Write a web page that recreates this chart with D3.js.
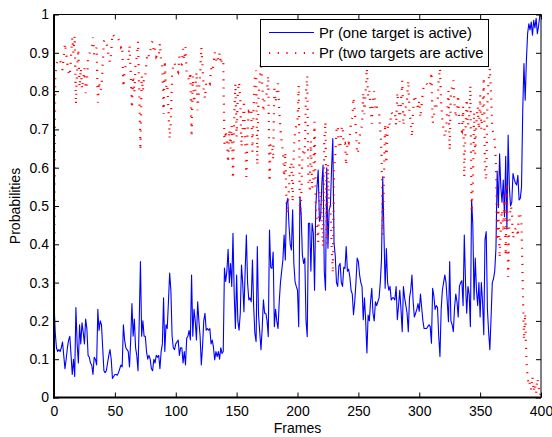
<!DOCTYPE html>
<html lang="en">
<head>
<meta charset="UTF-8">
<title>Probabilities</title>
<style>
  html, body { margin: 0; padding: 0; background: #fff; }
  svg { display: block; font-family: "Liberation Sans", Arial, Helvetica, sans-serif; }
</style>
</head>
<body>
<div id="chart"></div>
<script src="https://cdn.jsdelivr.net/npm/d3@7"></script>
<script>
// one value per frame, frames 0..400
const pOne = [
  0.25,0.17,0.13,0.12,0.125,0.12,0.13,0.145,0.11,0.075,
  0.1,0.13,0.15,0.16,0.11,0.06,0.1,0.055,0.235,0.14,
  0.09,0.19,0.14,0.195,0.17,0.14,0.205,0.18,0.11,0.105,
  0.09,0.085,0.06,0.105,0.1,0.085,0.23,0.175,0.2,0.19,
  0.13,0.07,0.065,0.07,0.09,0.11,0.125,0.1,0.05,0.055,
  0.06,0.06,0.058,0.065,0.075,0.085,0.08,0.19,0.15,0.13,
  0.125,0.12,0.08,0.15,0.245,0.16,0.205,0.13,0.11,0.07,
  0.2,0.355,0.16,0.2,0.16,0.16,0.12,0.1,0.11,0.1,
  0.075,0.07,0.1,0.09,0.11,0.105,0.11,0.075,0.12,0.14,
  0.26,0.12,0.19,0.18,0.25,0.325,0.28,0.16,0.13,0.125,
  0.14,0.145,0.15,0.11,0.13,0.13,0.09,0.12,0.085,0.155,
  0.16,0.175,0.15,0.32,0.16,0.23,0.2,0.15,0.25,0.2,
  0.16,0.085,0.133,0.2,0.22,0.176,0.18,0.176,0.18,0.14,
  0.15,0.13,0.098,0.12,0.107,0.12,0.1,0.13,0.115,0.12,
  0.338,0.303,0.33,0.387,0.3,0.35,0.29,0.429,0.272,0.18,
  0.32,0.2,0.176,0.22,0.346,0.298,0.224,0.33,0.424,0.3,
  0.255,0.26,0.25,0.359,0.237,0.167,0.146,0.394,0.216,0.17,
  0.125,0.18,0.255,0.22,0.22,0.2,0.159,0.437,0.34,0.337,
  0.38,0.185,0.23,0.2,0.18,0.25,0.3,0.33,0.359,0.424,
  0.359,0.507,0.52,0.45,0.4,0.385,0.49,0.35,0.302,0.29,
  0.28,0.185,0.524,0.48,0.372,0.35,0.364,0.2,0.159,0.455,
  0.455,0.33,0.455,0.43,0.28,0.5,0.55,0.594,0.46,0.47,
  0.56,0.607,0.329,0.28,0.6,0.39,0.49,0.5,0.6,0.676,
  0.403,0.37,0.3,0.29,0.344,0.35,0.3,0.29,0.34,0.337,
  0.394,0.33,0.335,0.315,0.28,0.27,0.216,0.25,0.3,0.364,
  0.355,0.32,0.3,0.29,0.203,0.26,0.2,0.116,0.215,0.2,
  0.25,0.285,0.22,0.2,0.25,0.24,0.25,0.26,0.3,0.36,
  0.576,0.429,0.285,0.389,0.3,0.28,0.29,0.255,0.26,0.26,
  0.255,0.29,0.203,0.24,0.28,0.23,0.172,0.29,0.26,0.24,
  0.22,0.172,0.26,0.28,0.32,0.25,0.21,0.22,0.23,0.245,
  0.225,0.27,0.235,0.2,0.18,0.18,0.18,0.185,0.19,0.185,
  0.142,0.285,0.265,0.23,0.24,0.235,0.16,0.107,0.23,0.28,
  0.3,0.32,0.3,0.25,0.198,0.355,0.2,0.19,0.172,0.235,
  0.27,0.25,0.21,0.29,0.3,0.305,0.24,0.424,0.3,0.22,
  0.29,0.27,0.185,0.516,0.45,0.255,0.364,0.28,0.24,0.3,
  0.21,0.3,0.25,0.164,0.412,0.433,0.23,0.17,0.125,0.21,
  0.3,0.31,0.33,0.39,0.591,0.496,0.636,0.55,0.51,0.568,
  0.472,0.63,0.44,0.685,0.55,0.5,0.51,0.585,0.57,0.56,
  0.555,0.58,0.516,0.52,0.55,0.75,0.872,0.776,0.88,0.95,
  0.976,0.96,0.98,0.946,0.985,0.965,0.99,0.95,0.97,0.998,
  0.995
];

const pTwo = [
  0.26,0.83,0.87,0.88,0.875,0.88,0.87,0.855,0.89,0.925,
  0.9,0.87,0.85,0.84,0.89,0.94,0.9,0.945,0.765,0.86,
  0.91,0.81,0.86,0.805,0.83,0.86,0.795,0.82,0.89,0.895,
  0.91,0.915,0.94,0.895,0.9,0.915,0.77,0.825,0.8,0.81,
  0.87,0.93,0.935,0.93,0.91,0.89,0.875,0.9,0.95,0.945,
  0.94,0.94,0.942,0.935,0.925,0.915,0.92,0.81,0.85,0.87,
  0.875,0.88,0.92,0.85,0.755,0.84,0.795,0.87,0.89,0.93,
  0.8,0.645,0.84,0.8,0.84,0.84,0.88,0.9,0.89,0.9,
  0.925,0.93,0.9,0.91,0.89,0.895,0.89,0.925,0.88,0.86,
  0.74,0.88,0.81,0.82,0.75,0.675,0.72,0.84,0.87,0.875,
  0.86,0.855,0.85,0.89,0.87,0.87,0.91,0.88,0.915,0.845,
  0.84,0.825,0.85,0.68,0.84,0.77,0.8,0.85,0.75,0.8,
  0.84,0.915,0.867,0.8,0.78,0.824,0.82,0.824,0.82,0.86,
  0.85,0.87,0.902,0.88,0.893,0.88,0.9,0.87,0.885,0.88,
  0.662,0.697,0.67,0.613,0.7,0.65,0.71,0.571,0.728,0.82,
  0.68,0.8,0.824,0.78,0.654,0.702,0.776,0.67,0.576,0.7,
  0.745,0.74,0.75,0.641,0.763,0.833,0.854,0.606,0.784,0.83,
  0.875,0.82,0.745,0.78,0.78,0.8,0.841,0.563,0.66,0.663,
  0.62,0.815,0.77,0.8,0.82,0.75,0.7,0.67,0.641,0.576,
  0.641,0.493,0.48,0.55,0.6,0.615,0.51,0.65,0.698,0.71,
  0.72,0.815,0.476,0.52,0.628,0.65,0.636,0.8,0.841,0.545,
  0.545,0.67,0.545,0.57,0.72,0.5,0.45,0.406,0.54,0.53,
  0.44,0.393,0.671,0.72,0.4,0.61,0.51,0.5,0.4,0.324,
  0.597,0.63,0.7,0.71,0.656,0.65,0.7,0.71,0.66,0.663,
  0.606,0.67,0.665,0.685,0.72,0.73,0.784,0.75,0.7,0.636,
  0.645,0.68,0.7,0.71,0.797,0.74,0.8,0.86,0.785,0.8,
  0.75,0.715,0.78,0.8,0.75,0.76,0.75,0.74,0.7,0.64,
  0.424,0.571,0.715,0.611,0.7,0.72,0.71,0.745,0.74,0.74,
  0.745,0.71,0.797,0.76,0.72,0.77,0.828,0.71,0.74,0.76,
  0.78,0.828,0.74,0.72,0.68,0.75,0.79,0.78,0.77,0.755,
  0.775,0.73,0.765,0.8,0.82,0.82,0.82,0.815,0.81,0.815,
  0.85,0.715,0.735,0.77,0.76,0.765,0.83,0.86,0.77,0.72,
  0.7,0.68,0.7,0.75,0.8,0.645,0.8,0.81,0.828,0.765,
  0.73,0.75,0.79,0.71,0.7,0.695,0.76,0.576,0.7,0.78,
  0.71,0.73,0.815,0.484,0.55,0.745,0.636,0.72,0.76,0.7,
  0.79,0.7,0.75,0.836,0.588,0.567,0.77,0.83,0.86,0.79,
  0.7,0.69,0.67,0.61,0.409,0.504,0.364,0.45,0.49,0.432,
  0.528,0.37,0.56,0.315,0.45,0.5,0.49,0.415,0.43,0.44,
  0.445,0.42,0.484,0.48,0.45,0.3,0.15,0.22,0.1,0.05,
  0.03,0.04,0.02,0.055,0.015,0.035,0.01,0.05,0.03,0.005,
  0.01
];

const xTicks = [0, 50, 100, 150, 200, 250, 300, 350, 400];
const yTicks = [0, 0.1, 0.2, 0.3, 0.4, 0.5, 0.6, 0.7, 0.8, 0.9, 1];
const legendLabels = ["Pr (one target is active)", "Pr (two targets are active"];

const width = 552, height = 437;
const plotL = 54, plotR = 541, plotT = 14.5, plotB = 397.5;

const svg = d3.select("#chart")
    .append("svg")
    .attr("width", width)
    .attr("height", height);

const x = d3.scaleLinear().domain([0, 400]).range([plotL, plotR]);
const y = d3.scaleLinear().domain([0, 1]).range([plotB, plotT]);

const line = d3.line()
    .x((d, i) => x(i))
    .y(d => y(d));

// series: blue first, red dotted on top
svg.append("path")
    .datum(pOne)
    .attr("fill", "none")
    .attr("stroke", "#0000ff")
    .attr("stroke-width", 1.1)
    .attr("stroke-linejoin", "round")
    .attr("d", line);

svg.append("path")
    .datum(pTwo)
    .attr("fill", "none")
    .attr("stroke", "#ff0000")
    .attr("stroke-width", 2.2)
    .attr("stroke-dasharray", "1.1,7")
    .attr("stroke-linecap", "butt")
    .attr("d", line);

// axes (MATLAB style box, ticks inward on all four sides)
const fmt = d => (d === 0 || d === 1) ? String(d) : d.toFixed(1);

const gx = svg.append("g")
    .attr("transform", `translate(0,${plotB})`)
    .call(d3.axisBottom(x).tickValues(xTicks).tickSizeInner(-5).tickSizeOuter(0).tickPadding(9));
const gy = svg.append("g")
    .attr("transform", `translate(${plotL},0)`)
    .call(d3.axisLeft(y).tickValues(yTicks).tickFormat(fmt).tickSizeInner(-5).tickSizeOuter(0).tickPadding(5));
const gt = svg.append("g")
    .attr("transform", `translate(0,${plotT})`)
    .call(d3.axisTop(x).tickValues(xTicks).tickFormat("").tickSizeInner(-5).tickSizeOuter(0));
const gr = svg.append("g")
    .attr("transform", `translate(${plotR},0)`)
    .call(d3.axisRight(y).tickValues(yTicks).tickFormat("").tickSizeInner(-5).tickSizeOuter(0));

[gx, gy, gt, gr].forEach(g => {
    g.select(".domain").remove();
    g.selectAll("line").attr("stroke", "#000");
    g.selectAll("text")
        .attr("fill", "#000")
        .style("font-size", "14px")
        .style("font-family", "'Liberation Sans', Arial, sans-serif");
});

svg.append("rect")
    .attr("x", plotL).attr("y", plotT)
    .attr("width", plotR - plotL).attr("height", plotB - plotT)
    .attr("fill", "none").attr("stroke", "#000").attr("stroke-width", 1);
svg.append("line")
    .attr("x1", plotL).attr("x2", plotL).attr("y1", plotT).attr("y2", plotB + 1)
    .attr("stroke", "#000").attr("stroke-width", 2);
svg.append("line")
    .attr("x1", plotL - 1).attr("x2", plotR).attr("y1", plotB).attr("y2", plotB)
    .attr("stroke", "#000").attr("stroke-width", 2);

svg.append("text")
    .attr("x", (plotL + plotR) / 2)
    .attr("y", 433)
    .attr("text-anchor", "middle")
    .style("font-size", "14px")
    .text("Frames");

svg.append("text")
    .attr("transform", `translate(20,${(plotT + plotB) / 2}) rotate(-90)`)
    .attr("text-anchor", "middle")
    .style("font-size", "14px")
    .text("Probabilities");

// legend
const lg = svg.append("g");
lg.append("rect")
    .attr("x", 260.5).attr("y", 19.5)
    .attr("width", 228).attr("height", 47)
    .attr("fill", "#fff").attr("stroke", "#000").attr("stroke-width", 1);

const legendStyles = [
    { color: "#0000ff", width: 1.1, dash: null },
    { color: "#ff0000", width: 2.2, dash: "1.2,7.5" }
];
legendLabels.forEach((label, i) => {
    const yy = 32.5 + i * 20.5;
    lg.append("line")
        .attr("x1", 269).attr("x2", 314)
        .attr("y1", yy).attr("y2", yy)
        .attr("stroke", legendStyles[i].color)
        .attr("stroke-width", legendStyles[i].width)
        .attr("stroke-dasharray", legendStyles[i].dash);
    lg.append("text")
        .attr("x", 319)
        .attr("y", yy + 5)
        .style("font-size", "14.8px")
        .text(label);
});
</script>
</body>
</html>
